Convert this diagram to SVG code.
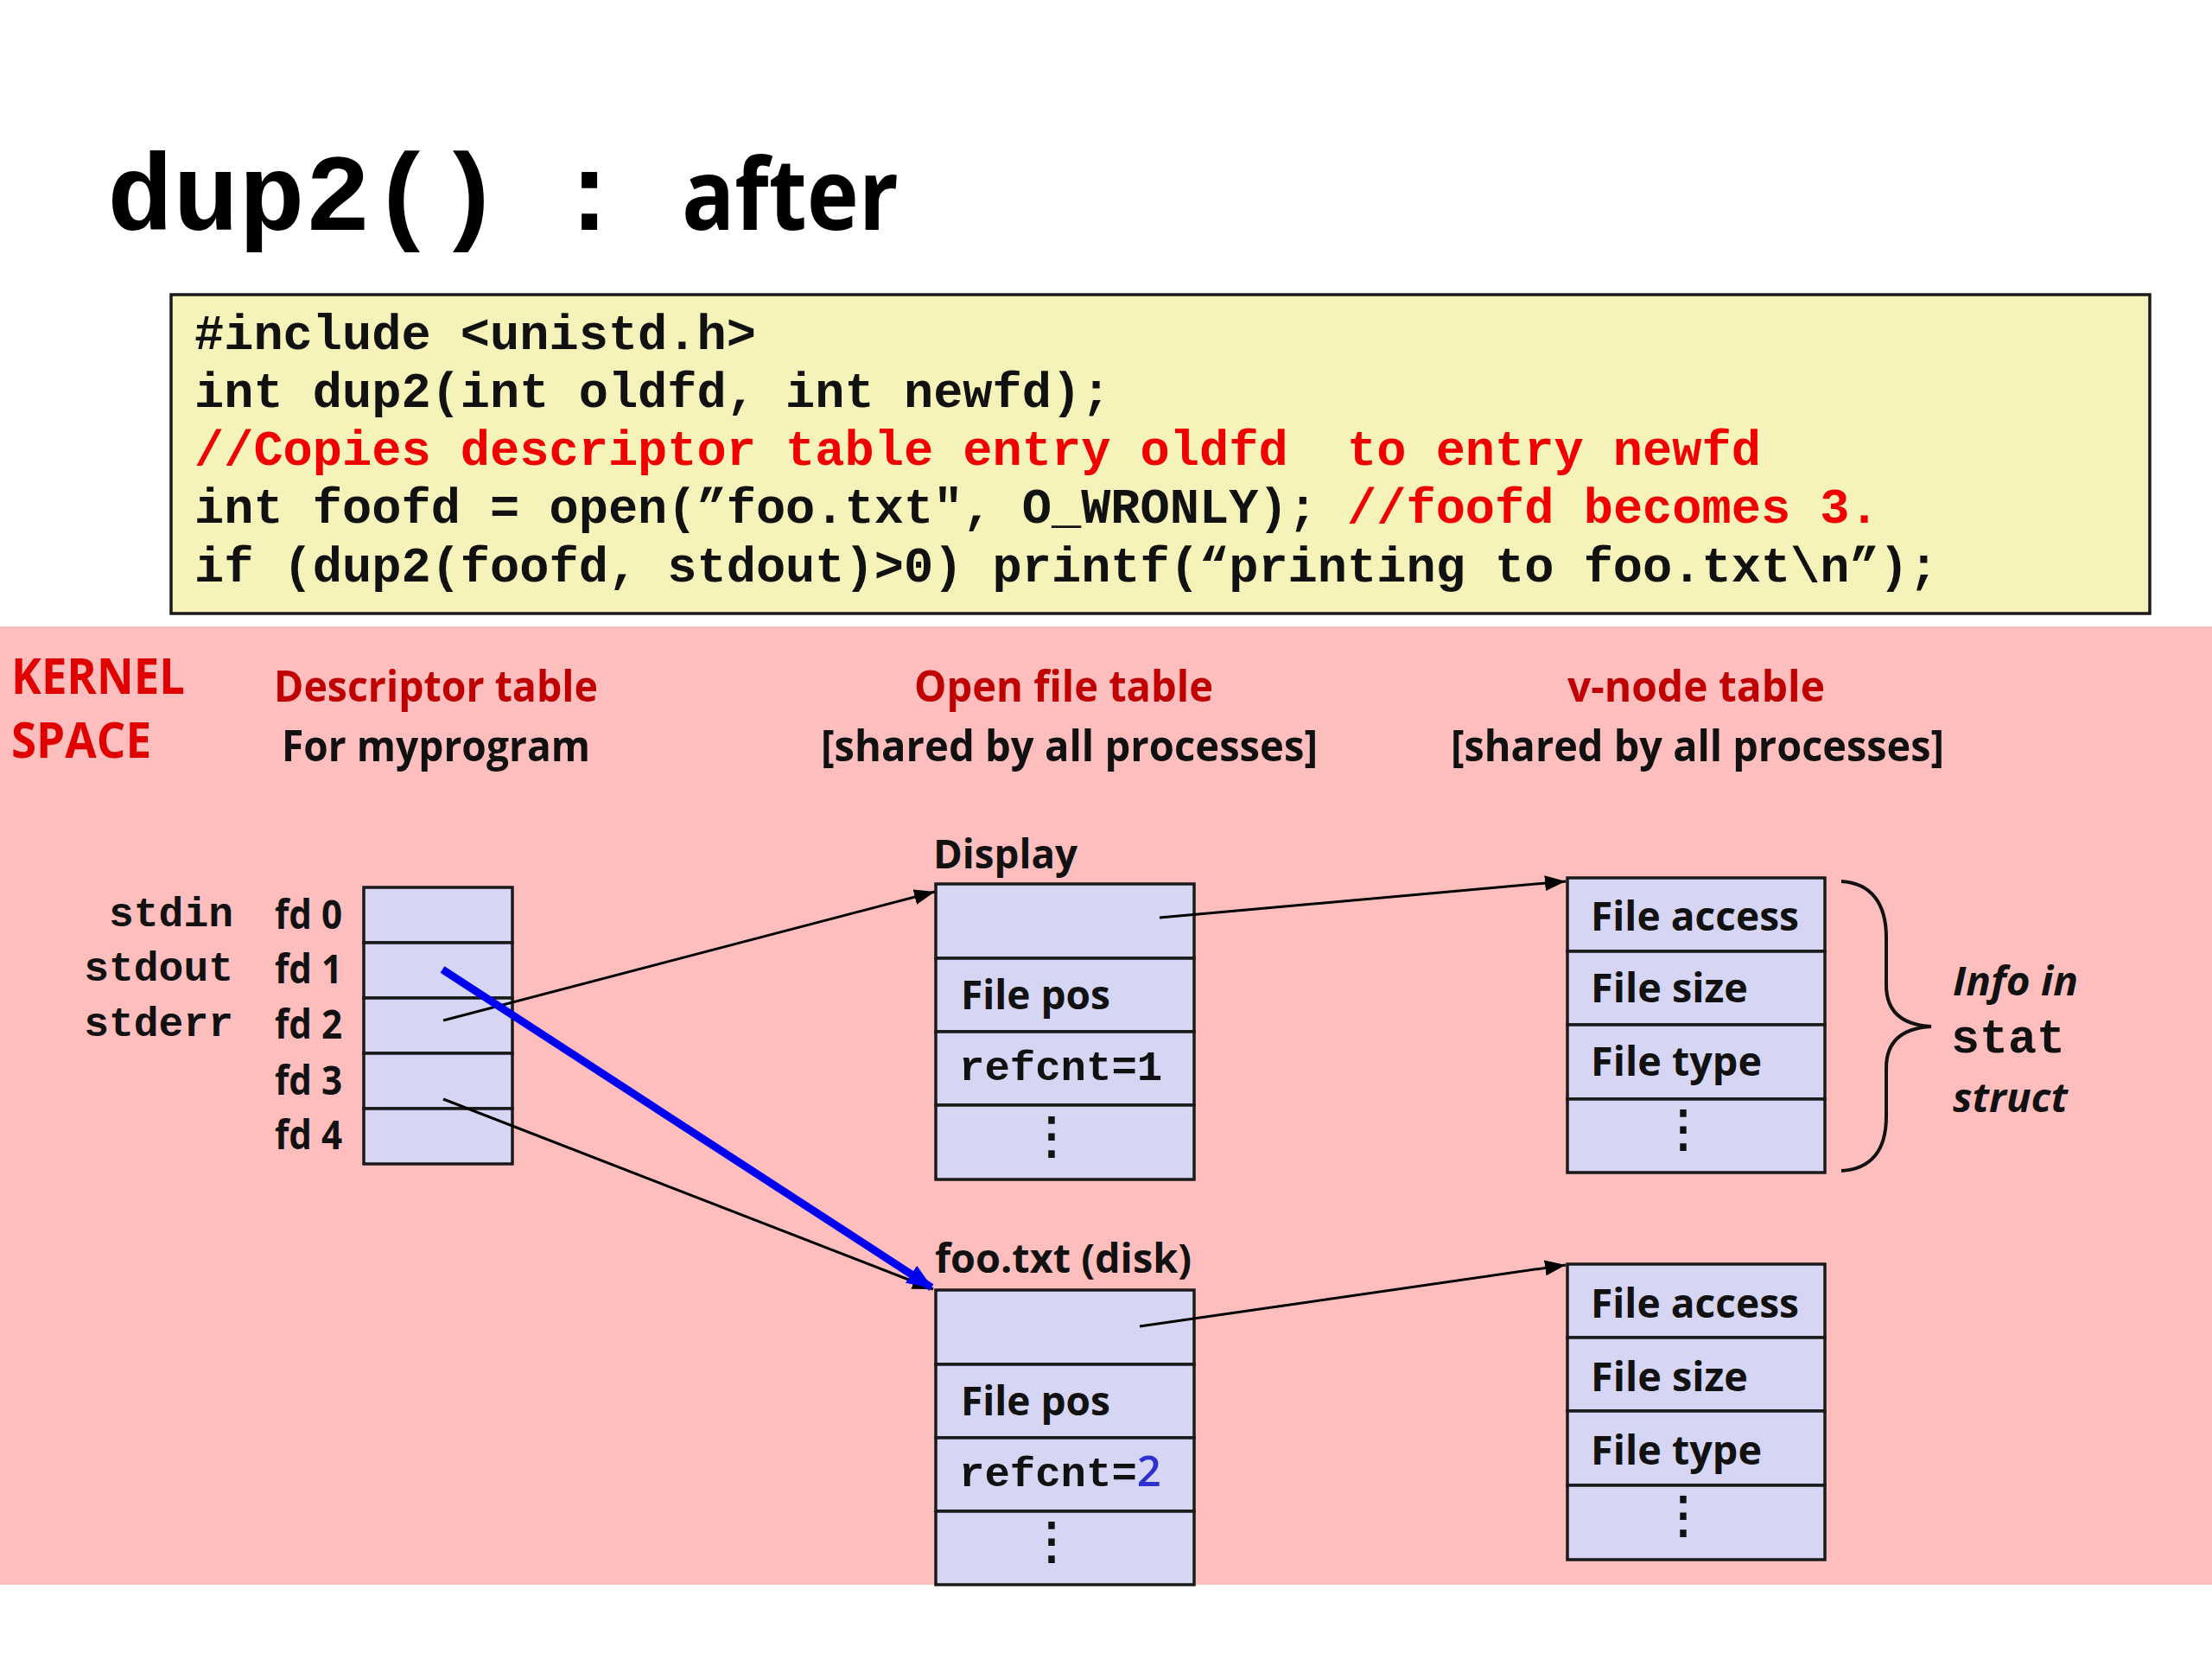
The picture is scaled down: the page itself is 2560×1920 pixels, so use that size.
<svg xmlns="http://www.w3.org/2000/svg" width="2560" height="1920" viewBox="0 0 2560 1920">
<style>
.sans{font-family:"Open Sans","Liberation Sans",sans-serif;font-weight:bold;}
.mono{font-family:"Liberation Mono","Courier New",monospace;font-weight:bold;}
.red{fill:#C00000;}
.code{font-family:"Liberation Mono","Courier New",monospace;font-weight:bold;font-size:57px;fill:#111;}
.cmt{fill:#F00000;}
.cell{fill:#D6D6F4;stroke:#1a1a1a;stroke-width:3.5;}
.ct{font-family:"Open Sans","Liberation Sans",sans-serif;font-weight:bold;font-size:46px;fill:#111;}
.cm{font-family:"Liberation Mono","Courier New",monospace;font-weight:bold;font-size:49px;fill:#111;}
.dots{font-family:"DejaVu Sans",sans-serif;font-size:58px;fill:#111;stroke:#111;stroke-width:1.5;text-anchor:middle;}
.conn{stroke:#000;stroke-width:3;fill:none;}
.blue{stroke:#0000F0;stroke-width:9;fill:none;}
</style>
<defs>
<marker id="ah" markerUnits="userSpaceOnUse" markerWidth="24" markerHeight="18" refX="24" refY="9" orient="auto">
<path d="M0,0 L24,9 L0,18 z" fill="#000"/>
</marker>
<marker id="ahb" markerUnits="userSpaceOnUse" markerWidth="30" markerHeight="24" refX="28" refY="12" orient="auto">
<path d="M0,0 L30,12 L0,24 z" fill="#0000F0"/>
</marker>
</defs>
<rect x="0" y="0" width="2560" height="1920" fill="#fff"/>
<g id="title">
<text x="124" y="266" class="mono" font-size="127" fill="#000">dup2()</text>
<text x="682" y="266" class="mono" font-size="127" fill="#000" text-anchor="middle">:</text>
<text x="789" y="266" class="sans" font-size="114" fill="#000" textLength="251" lengthAdjust="spacingAndGlyphs">after</text>
</g>
<g id="code">
<rect x="198" y="341" width="2290" height="369" fill="#F5F3B9" stroke="#1a1a1a" stroke-width="3.5"/>
<text x="225" y="404" class="code">#include &lt;unistd.h&gt;</text>
<text x="225" y="471" class="code">int dup2(int oldfd, int newfd);</text>
<text x="225" y="538" class="code cmt" xml:space="preserve">//Copies descriptor table entry oldfd  to entry newfd</text>
<text x="225" y="605" class="code" xml:space="preserve">int foofd = open(”foo.txt", O_WRONLY); <tspan class="cmt">//foofd becomes 3.</tspan></text>
<text x="225" y="673" class="code">if (dup2(foofd, stdout)&gt;0) printf(“printing to foo.txt\n”);</text>
</g>
<rect id="kernel-bg" x="0" y="725" width="2560" height="1109" fill="#FFBEBE"/>
<g id="headers">
<text x="13" y="803" class="sans" font-size="58" fill="#E00000" textLength="201" lengthAdjust="spacingAndGlyphs">KERNEL</text>
<text x="13" y="877" class="sans" font-size="58" fill="#E00000" textLength="162" lengthAdjust="spacingAndGlyphs">SPACE</text>
<text x="317" y="812" class="sans red" font-size="50" textLength="375" lengthAdjust="spacingAndGlyphs">Descriptor table</text>
<text x="326" y="881" class="sans" font-size="50" fill="#111" textLength="357" lengthAdjust="spacingAndGlyphs">For myprogram</text>
<text x="1058" y="812" class="sans red" font-size="50" textLength="346" lengthAdjust="spacingAndGlyphs">Open file table</text>
<text x="950" y="881" class="sans" font-size="50" fill="#111" textLength="575" lengthAdjust="spacingAndGlyphs">[shared by all processes]</text>
<text x="1814" y="812" class="sans red" font-size="50" textLength="298" lengthAdjust="spacingAndGlyphs">v-node table</text>
<text x="1679" y="881" class="sans" font-size="50" fill="#111" textLength="571" lengthAdjust="spacingAndGlyphs">[shared by all processes]</text>
</g>
<g id="descriptor-table">
<text x="270" y="1072" class="mono" font-size="48" fill="#111" text-anchor="end">stdin</text>
<text x="270" y="1135" class="mono" font-size="48" fill="#111" text-anchor="end">stdout</text>
<text x="270" y="1199" class="mono" font-size="48" fill="#111" text-anchor="end">stderr</text>
<text x="318" y="1075" class="ct" font-size="44" textLength="78" lengthAdjust="spacingAndGlyphs">fd 0</text>
<text x="318" y="1138" class="ct" font-size="44" textLength="78" lengthAdjust="spacingAndGlyphs">fd 1</text>
<text x="318" y="1202" class="ct" font-size="44" textLength="78" lengthAdjust="spacingAndGlyphs">fd 2</text>
<text x="318" y="1267" class="ct" font-size="44" textLength="78" lengthAdjust="spacingAndGlyphs">fd 3</text>
<text x="318" y="1330" class="ct" font-size="44" textLength="78" lengthAdjust="spacingAndGlyphs">fd 4</text>
<rect class="cell" x="421" y="1027" width="172" height="64"/>
<rect class="cell" x="421" y="1091" width="172" height="64"/>
<rect class="cell" x="421" y="1155" width="172" height="64"/>
<rect class="cell" x="421" y="1219" width="172" height="64"/>
<rect class="cell" x="421" y="1283" width="172" height="64"/>
</g>
<g id="open-file-display">
<text x="1080" y="1005" class="ct" textLength="167" lengthAdjust="spacingAndGlyphs">Display</text>
<rect class="cell" x="1083" y="1023" width="299" height="86"/>
<rect class="cell" x="1083" y="1109" width="299" height="85"/>
<rect class="cell" x="1083" y="1194" width="299" height="85"/>
<rect class="cell" x="1083" y="1279" width="299" height="86"/>
<text x="1112" y="1168" class="ct" textLength="173" lengthAdjust="spacingAndGlyphs">File pos</text>
<text x="1110" y="1250" class="cm">refcnt=1</text>
<text x="1217" y="1334" class="dots">⋮</text>
</g>
<g id="open-file-foo">
<text x="1082" y="1473" class="ct" textLength="297" lengthAdjust="spacingAndGlyphs">foo.txt (disk)</text>
<rect class="cell" x="1083" y="1493" width="299" height="86"/>
<rect class="cell" x="1083" y="1579" width="299" height="85"/>
<rect class="cell" x="1083" y="1664" width="299" height="85"/>
<rect class="cell" x="1083" y="1749" width="299" height="85"/>
<text x="1112" y="1638" class="ct" textLength="173" lengthAdjust="spacingAndGlyphs">File pos</text>
<text x="1110" y="1720" class="cm">refcnt=<tspan font-family="Open Sans, Liberation Sans, sans-serif" font-weight="600" fill="#3030D0">2</tspan></text>
<text x="1217" y="1803" class="dots">⋮</text>
</g>
<g id="vnode-display">
<rect class="cell" x="1814" y="1016" width="298" height="85"/>
<rect class="cell" x="1814" y="1101" width="298" height="85"/>
<rect class="cell" x="1814" y="1186" width="298" height="86"/>
<rect class="cell" x="1814" y="1272" width="298" height="85"/>
<text x="1841" y="1077" class="ct" textLength="241" lengthAdjust="spacingAndGlyphs">File access</text>
<text x="1841" y="1160" class="ct" textLength="182" lengthAdjust="spacingAndGlyphs">File size</text>
<text x="1841" y="1245" class="ct" textLength="198" lengthAdjust="spacingAndGlyphs">File type</text>
<text x="1948" y="1326" class="dots">⋮</text>
</g>
<g id="vnode-foo">
<rect class="cell" x="1814" y="1463" width="298" height="85"/>
<rect class="cell" x="1814" y="1548" width="298" height="85"/>
<rect class="cell" x="1814" y="1633" width="298" height="86"/>
<rect class="cell" x="1814" y="1719" width="298" height="86"/>
<text x="1841" y="1525" class="ct" textLength="241" lengthAdjust="spacingAndGlyphs">File access</text>
<text x="1841" y="1610" class="ct" textLength="182" lengthAdjust="spacingAndGlyphs">File size</text>
<text x="1841" y="1695" class="ct" textLength="198" lengthAdjust="spacingAndGlyphs">File type</text>
<text x="1948" y="1773" class="dots">⋮</text>
</g>
<g id="stat-note">
<path d="M2131,1020 C2165,1022 2183,1045 2183,1085 L2183,1140 C2183,1170 2200,1186 2235,1188 C2200,1190 2183,1206 2183,1236 L2183,1292 C2183,1332 2165,1353 2131,1355" fill="none" stroke="#111" stroke-width="4"/>
<text x="2260" y="1152" class="sans" font-style="italic" font-size="46" fill="#111" textLength="145" lengthAdjust="spacingAndGlyphs">Info in</text>
<text x="2258" y="1218" class="mono" font-size="55" fill="#111">stat</text>
<text x="2260" y="1287" class="sans" font-style="italic" font-size="46" fill="#111" textLength="133" lengthAdjust="spacingAndGlyphs">struct</text>
</g>
<g id="connectors">
<line class="conn" x1="513" y1="1181" x2="1082" y2="1032" marker-end="url(#ah)"/>
<line class="conn" x1="513" y1="1272" x2="1080" y2="1492" marker-end="url(#ah)"/>
<line class="blue" x1="512" y1="1122" x2="1078" y2="1490" marker-end="url(#ahb)"/>
<line class="conn" x1="1342" y1="1062" x2="1812" y2="1020" marker-end="url(#ah)"/>
<line class="conn" x1="1319" y1="1535" x2="1812" y2="1464" marker-end="url(#ah)"/>
</g>
</svg>
